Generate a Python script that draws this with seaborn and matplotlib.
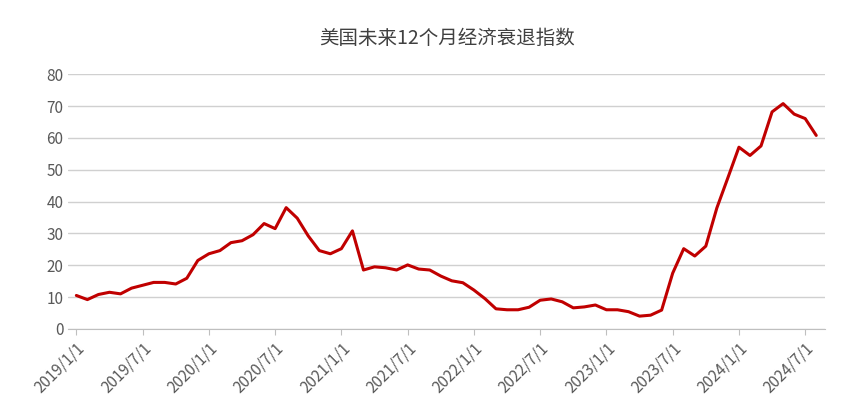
import matplotlib
matplotlib.use('Agg')
import matplotlib.pyplot as plt
import seaborn as sns
import pandas as pd

# Monthly index, 2019/1 .. 2024/8
values = [10.5, 9.2, 10.8, 11.5, 11.0, 12.8, 13.7, 14.6, 14.6, 14.1, 15.9, 21.5,
          23.6, 24.6, 27.1, 27.7, 29.6, 33.1, 31.5, 38.1, 34.8, 29.2, 24.6, 23.6,
          25.2, 30.8, 18.5, 19.5, 19.2, 18.5, 20.1, 18.8, 18.5, 16.6, 15.1, 14.5,
          12.2, 9.5, 6.3, 6.0, 6.0, 6.8, 9.0, 9.4, 8.5, 6.6, 6.9, 7.5,
          6.0, 6.0, 5.4, 4.0, 4.3, 5.9, 17.5, 25.2, 22.9, 26.0, 38.0, 47.5,
          57.1, 54.5, 57.5, 68.2, 70.8, 67.5, 66.1, 60.8]
tick_labels = ['2019/1/1', '2019/7/1', '2020/1/1', '2020/7/1', '2021/1/1', '2021/7/1',
               '2022/1/1', '2022/7/1', '2023/1/1', '2023/7/1', '2024/1/1', '2024/7/1']

df = pd.DataFrame({'month': range(len(values)), 'value': values})

sns.set_style('white')
plt.rcParams['font.family'] = ['Noto Sans CJK SC', 'DejaVu Sans']

fig, ax = plt.subplots(figsize=(8.55, 4.2), dpi=100)
sns.lineplot(data=df, x='month', y='value', color='#C00000', linewidth=2.2, ax=ax)

ax.set_ylim(0, 80)
ax.set_yticks(range(0, 81, 10))
ax.set_xlim(-0.72, len(values) - 0.2)
ax.set_xticks(range(0, len(values), 6))
ax.set_xticklabels(tick_labels, rotation=45, ha='right', rotation_mode='anchor')
ax.tick_params(axis='x', length=4, color='#bfbfbf', labelsize=11, labelcolor='#595959', direction='out', bottom=True)
ax.tick_params(axis='y', length=0, labelsize=11, labelcolor='#595959')
ax.grid(axis='y', color='#d0d0d0', linewidth=1)
for s in ['left', 'right', 'top']:
    ax.spines[s].set_visible(False)
ax.spines['bottom'].set_color('#bfbfbf')
ax.set_xlabel('')
ax.set_ylabel('')
ax.set_title('美国未来12个月经济衰退指数', fontsize=14, color='#404040', pad=22)

plt.subplots_adjust(left=0.08, right=0.965, top=0.823, bottom=0.217)
fig.savefig('out.png', dpi=100)
